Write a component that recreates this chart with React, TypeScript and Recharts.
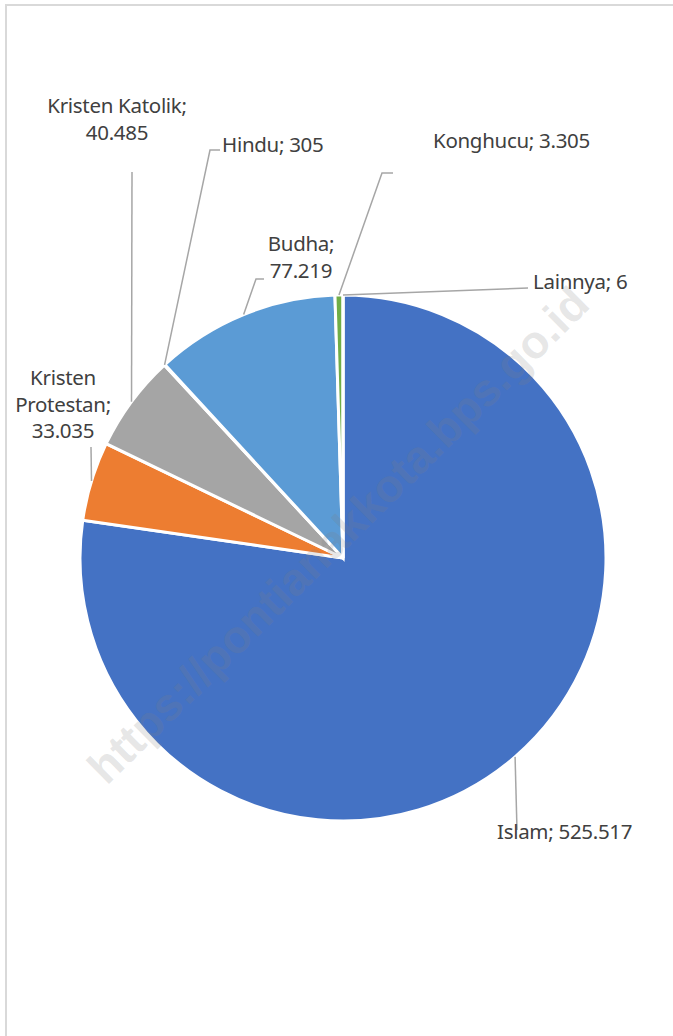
import React from 'react';
import { PieChart, Pie, Cell } from 'recharts';

const categories = ['Islam', 'Kristen Protestan', 'Kristen Katolik', 'Hindu', 'Budha', 'Konghucu', 'Lainnya'];
const values = [525517, 33035, 40485, 305, 77219, 3305, 6];
const colors = ['#4472C4', '#ED7D31', '#A5A5A5', '#FFC000', '#5B9BD5', '#70AD47', '#264478'];

const data = categories.map((name, i) => ({ name, value: values[i] }));

type LabelLayout = {
  lines: string[];
  x: number;
  y: number;
  anchor: 'start' | 'middle' | 'end';
  elbow?: [number, number][];
};

const layouts: LabelLayout[] = [
  { lines: ['Islam; 525.517'], x: 497, y: 839, anchor: 'start', elbow: [[517, 830]] },
  { lines: ['Kristen', 'Protestan;', '33.035'], x: 63, y: 385, anchor: 'middle', elbow: [[91, 447]] },
  { lines: ['Kristen Katolik;', '40.485'], x: 117, y: 113, anchor: 'middle', elbow: [[132, 172]] },
  { lines: ['Hindu; 305'], x: 222, y: 152, anchor: 'start', elbow: [[210, 150], [220, 150]] },
  { lines: ['Budha;', '77.219'], x: 301, y: 251, anchor: 'middle', elbow: [[256, 279], [264, 279]] },
  { lines: ['Konghucu; 3.305'], x: 433, y: 148, anchor: 'start', elbow: [[382, 173], [393, 173]] },
  { lines: ['Lainnya; 6'], x: 533, y: 289, anchor: 'start', elbow: [[528, 288]] },
];

const RAD = Math.PI / 180;

const renderLabel = (props: any) => {
  const { cx, cy, midAngle, outerRadius, index } = props;
  const sx = cx + outerRadius * Math.cos(-midAngle * RAD);
  const sy = cy + outerRadius * Math.sin(-midAngle * RAD);
  const l = layouts[index];
  const pts = [[sx, sy], ...(l.elbow || [])];
  const d = pts.map((p, i) => `${i === 0 ? 'M' : 'L'}${p[0]},${p[1]}`).join(' ');
  return (
    <g key={`lbl-${index}`}>
      <path d={d} stroke="#A6A6A6" strokeWidth={1.5} fill="none" />
      <text
        x={l.x}
        y={l.y}
        textAnchor={l.anchor}
        fill="#404040"
        fontSize={20.5}
        fontFamily="'Noto Sans', 'Open Sans', sans-serif"
        letterSpacing={-0.3}
      >
        {l.lines.map((ln, i) => (
          <tspan key={i} x={l.x} dy={i === 0 ? 0 : 26.5}>
            {ln}
          </tspan>
        ))}
      </text>
    </g>
  );
};

export default function App() {
  return (
    <div style={{ position: 'absolute', left: 0, top: 0, width: 673, height: 1036, background: '#fff', overflow: 'hidden' }}>
      <div
        style={{
          position: 'absolute',
          left: 5,
          top: 4,
          width: 700,
          height: 1100,
          borderLeft: '2px solid #D9D9D9',
          borderTop: '2px solid #D9D9D9',
        }}
      />
      <div style={{ position: 'absolute', left: 0, top: 0 }}>
        <PieChart width={673} height={1036} margin={{ top: 0, right: 0, bottom: 0, left: 0 }}>
          <Pie
            data={data}
            dataKey="value"
            nameKey="name"
            cx={343}
            cy={558}
            outerRadius={263}
            startAngle={90}
            endAngle={-270}
            stroke="#FFFFFF"
            strokeWidth={3}
            label={renderLabel}
            labelLine={false}
            isAnimationActive={false}
          >
            {data.map((d, i) => (
              <Cell key={d.name} fill={colors[i]} />
            ))}
          </Pie>
        </PieChart>
      </div>
      <svg
        width={673}
        height={1036}
        style={{ position: 'absolute', left: 0, top: 0, pointerEvents: 'none' }}
      >
        <text
          x={338}
          y={551}
          textAnchor="middle"
          transform="rotate(-44.7 338 535)"
          fontFamily="'Liberation Sans', Arial, sans-serif"
          fontWeight="bold"
          fontSize={46}
          fill="#808080"
          fillOpacity={0.2}
        >
          https://pontianakkota.bps.go.id
        </text>
      </svg>
    </div>
  );
}
